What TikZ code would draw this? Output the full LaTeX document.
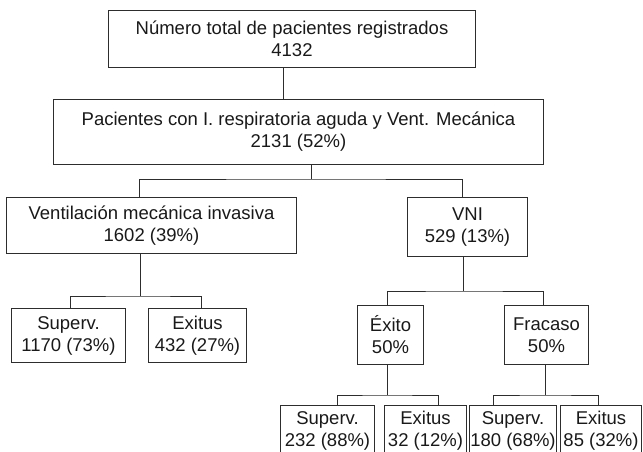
\documentclass[tikz,border=0pt]{standalone}
\usepackage{fontspec}
\setmainfont{Liberation Sans}
\usepackage{xcolor}
\definecolor{linegray}{RGB}{45,45,45}
\definecolor{textgray}{RGB}{25,25,25}
\tikzset{
    box/.style={draw=linegray, line width=1pt, anchor=north west, align=center,
        inner sep=0pt, text=textgray, font=\fontsize{18.5}{22}\selectfont},
    boxsize/.style 2 args={minimum width=#1pt, minimum height=#2pt},
    link/.style={draw=linegray, line width=1pt}
}

\begin{document}
\begin{tikzpicture}[x=1pt, y=-1pt]
    \useasboundingbox (0,0) rectangle (643,451);

    \path
        (108,10) node[box, boxsize={367}{57}] (total) {Número total de pacientes registrados\\4132}
        (53,99) node[box, boxsize={490}{65}] (pacientes) {Pacientes con I. respiratoria aguda y Vent. Mecánica\\2131 (52\%)}
        (6,197) node[box, boxsize={290}{56}] (vmi) {Ventilación mecánica invasiva\\1602 (39\%)}
        (407,197) node[box, boxsize={120}{59}] (vni) {VNI\\529 (13\%)}
        (11,308) node[box, boxsize={114}{54}] (vmi-sup) {Superv.\\1170 (73\%)}
        (148,308) node[box, boxsize={98}{54}] (vmi-exi) {Exitus\\432 (27\%)}
        (357,305) node[box, boxsize={66}{59}] (exito) {Éxito\\50\%}
        (504,305) node[box, boxsize={84}{59}] (fracaso) {Fracaso\\50\%}
        (280,405) node[box, boxsize={94}{50}] (exito-sup) {Superv.\\232 (88\%)}
        (384,405) node[box, boxsize={82}{50}] (exito-exi) {Exitus\\32 (12\%)}
        (469,405) node[box, boxsize={87}{50}] (fracaso-sup) {Superv.\\180 (68\%)}
        (560,405) node[box, boxsize={81}{50}] (fracaso-exi) {Exitus\\85 (32\%)};

    \coordinate (f0) at (283,0);
    \coordinate (f1) at (311,179);
    \coordinate (f2) at (140,296);
    \coordinate (f3) at (463,291);
    \coordinate (f4) at (387,395);
    \coordinate (f5) at (545,395);

    \draw[link] (total.south -| f0) -- (pacientes.north -| f0);

    \draw[link] (pacientes.south -| f1) -- (f1);
    \draw[link] ([xshift=-12pt]vmi.north) |- (f1) -| ([xshift=-5pt]vni.north);

    \draw[link] (vmi.south -| f2) -- (f2);
    \draw[link] ([xshift=2pt]vmi-sup.north) |- (f2) -| ([xshift=4pt]vmi-exi.north);

    \draw[link] (vni.south -| f3) -- (f3);
    \draw[link] ([xshift=-3pt]exito.north) |- (f3) -| ([xshift=-3pt]fracaso.north);

    \draw[link] (exito.south -| f4) -- (f4);
    \draw[link] ([xshift=10pt]exito-sup.north) |- (f4) -| ([xshift=13pt]exito-exi.north);

    \draw[link] (fracaso.south -| f5) -- (f5);
    \draw[link] ([xshift=-19.5pt]fracaso-sup.north) |- (f5) -| ([xshift=-2.5pt]fracaso-exi.north);
\end{tikzpicture}
\end{document}
